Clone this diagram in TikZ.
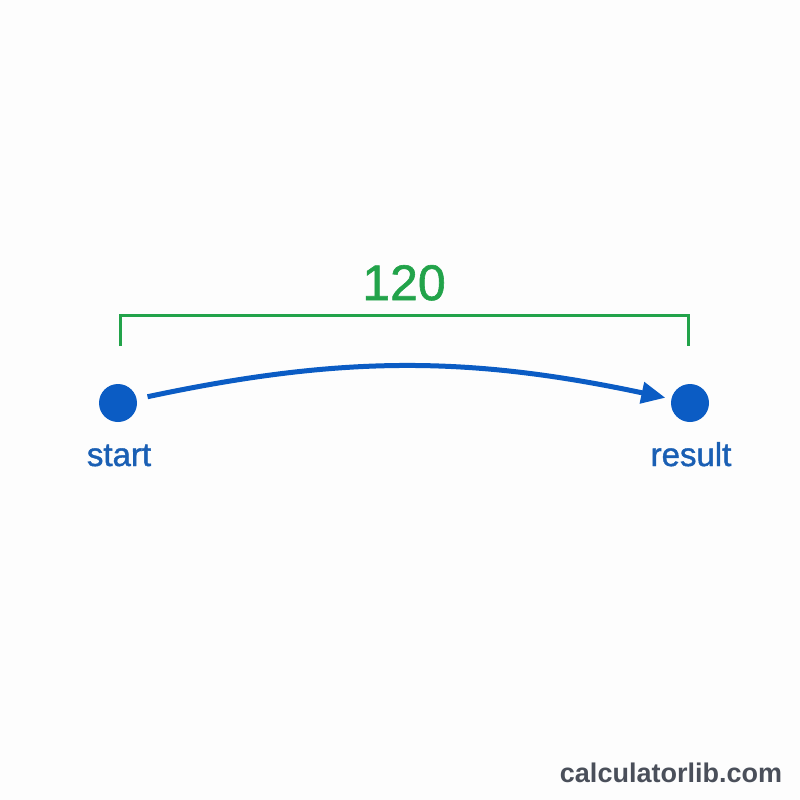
\documentclass[tikz,border=0pt]{standalone}
\usepackage{fontspec}
\setmainfont{Liberation Sans}
\newfontfamily\medfont[FakeBold=1.2]{Liberation Sans}
\usetikzlibrary{arrows.meta}
\definecolor{bluedot}{HTML}{0B5CC4}
\definecolor{bluetext}{HTML}{1A5FB4}
\definecolor{greenline}{HTML}{22A34A}
\definecolor{markgray}{HTML}{4A4F5A}
\definecolor{bg}{HTML}{FDFDFD}
\tikzset{
  dot/.style={circle, fill=bluedot, inner sep=0pt, minimum size=38pt},
  lbl/.style={text=bluetext, font=\medfont\fontsize{33}{40}\selectfont, inner sep=0pt},
  bracketline/.style={draw=greenline, line width=3pt, line cap=butt, line join=miter},
  flow/.style={draw=bluedot, line width=5pt, -{Triangle[length=24pt,width=21pt]}},
}
\begin{document}
\begin{tikzpicture}[x=1pt,y=-1pt]
\fill[bg] (0,0) rectangle (800,800);
\useasboundingbox (0,0) rectangle (800,800);
\node[dot] (s) at (118,403) {};
\node[dot] (r) at (690,403) {};
\node[lbl, anchor=base] (sl) at (119,466) {start};
\node[lbl, anchor=base] (rl) at (691,466) {result};
\coordinate (b1) at (120,346);
\coordinate (b2) at (120,315);
\coordinate (b3) at (688,315);
\coordinate (b4) at (688,346);
\draw[bracketline] (b1) -- (b2) -- (b3) -- (b4);
\node[text=greenline, font=\medfont\fontsize{50}{60}\selectfont, anchor=base, inner sep=0pt] (num) at (404,300) {120};
\draw[flow, shorten <=11pt, shorten >=6pt] (s) to[bend left=12] (r);
\node[text=markgray, font=\bfseries\fontsize{27}{32}\selectfont, anchor=base, inner sep=0pt] (wm) at (671,782) {calculatorlib.com};
\end{tikzpicture}
\end{document}
